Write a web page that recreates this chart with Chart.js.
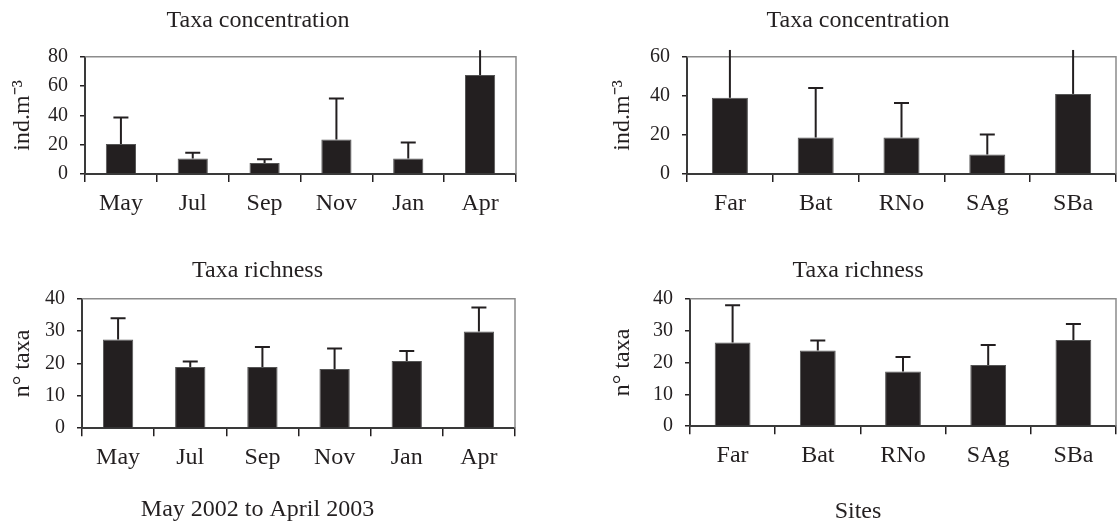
<!DOCTYPE html>
<html>
<head>
<meta charset="utf-8">
<script src="https://cdn.jsdelivr.net/npm/chart.js@4.4.1/dist/chart.umd.min.js"></script>
<style>
    html, body { margin: 0; padding: 0; background: #ffffff; overflow: hidden; }
    body { width: 1117px; height: 527px; position: relative; }
    .panel { position: absolute; }
</style>
</head>
<body>
<div class="panel" style="left:0px; top:0px; width:520px; height:250px;"><canvas id="concMonths"></canvas></div>
<div class="panel" style="left:560px; top:0px; width:568px; height:250px;"><canvas id="concSites"></canvas></div>
<div class="panel" style="left:0px; top:250px; width:518px; height:277px;"><canvas id="richMonths"></canvas></div>
<div class="panel" style="left:560px; top:250px; width:580px; height:277px;"><canvas id="richSites"></canvas></div>

<script>
// Data (mean and upper standard deviation)
const monthLabels = ['May', 'Jul', 'Sep', 'Nov', 'Jan', 'Apr'];
const siteLabels = ['Far', 'Bat', 'RNo', 'SAg', 'SBa'];

const monthConc = [20.5, 10.5, 7.5, 23.5, 10.5, 67.5];
const monthConcErr = [18, 4, 2.5, 28, 11, 17];

const siteConc = [39, 18.7, 18.7, 10, 41];
const siteConcErr = [24.5, 25.3, 17.6, 10.2, 22.5];

const monthRich = [27.4, 18.9, 18.9, 18.3, 20.8, 29.9];
const monthRichErr = [6.6, 1.7, 6.2, 6.3, 3.1, 7.4];

const siteRich = [26.3, 23.8, 17.2, 19.2, 27.1];
const siteRichErr = [11.7, 3.1, 4.5, 6.3, 5.0];

const INK = '#231f20';
const SERIF = "'Liberation Serif', 'Times New Roman', serif";

// Upper error bars, cap only when the top stays inside the plot
const errorBars = {
    id: 'errorBars',
    afterDatasetsDraw(chart) {
        const ds = chart.data.datasets[0];
        const meta = chart.getDatasetMeta(0);
        const y = chart.scales.y;
        const top = chart.chartArea.top;
        const ctx = chart.ctx;
        ctx.save();
        ctx.strokeStyle = INK;
        ctx.lineWidth = 2;
        meta.data.forEach((bar, i) => {
            const yTop = y.getPixelForValue(ds.data[i] + ds.errors[i]);
            ctx.beginPath();
            ctx.moveTo(bar.x, bar.y);
            ctx.lineTo(bar.x, yTop);
            if (yTop >= top) {
                ctx.moveTo(bar.x - 7.5, yTop);
                ctx.lineTo(bar.x + 7.5, yTop);
            }
            ctx.stroke();
        });
        ctx.restore();
    }
};

// Grey top and right edges of the plot box
const plotFrame = {
    id: 'plotFrame',
    beforeDatasetsDraw(chart) {
        const { ctx, chartArea: a } = chart;
        ctx.save();
        ctx.strokeStyle = '#8c8c8c';
        ctx.lineWidth = 1.5;
        ctx.beginPath();
        ctx.moveTo(a.left, a.top);
        ctx.lineTo(a.right, a.top);
        ctx.lineTo(a.right, a.bottom);
        ctx.stroke();
        ctx.restore();
    }
};

function makeChart(id, labels, values, errors, cfg) {
    const ctx = document.getElementById(id).getContext('2d');
    return new Chart(ctx, {
        type: 'bar',
        data: {
            labels: labels,
            datasets: [{
                data: values,
                errors: errors,
                backgroundColor: INK,
                borderColor: '#555555',
                borderWidth: 1,
                barPercentage: 0.42,
                categoryPercentage: 1
            }]
        },
        options: {
            responsive: true,
            maintainAspectRatio: false,
            animation: false,
            layout: { padding: cfg.padding },
            plugins: {
                legend: { display: false },
                tooltip: { enabled: false },
                title: {
                    display: true,
                    text: cfg.title,
                    color: INK,
                    font: { family: SERIF, size: 24, weight: 'normal', lineHeight: 1.2 },
                    padding: cfg.titlePad
                },
                subtitle: {
                    display: !!cfg.xTitle,
                    text: cfg.xTitle || '',
                    position: 'bottom',
                    color: INK,
                    font: { family: SERIF, size: 24, weight: 'normal', lineHeight: 1.2 },
                    padding: cfg.xTitlePad || 0
                }
            },
            scales: {
                x: {
                    afterFit: s => { s.height = 45; },
                    grid: {
                        display: true,
                        offset: true,
                        drawOnChartArea: false,
                        drawTicks: true,
                        tickLength: 8,
                        color: INK,
                        lineWidth: 1.5
                    },
                    border: { display: true, color: '#3a3a3a', width: 2 },
                    ticks: {
                        color: INK,
                        padding: 7,
                        font: { family: SERIF, size: 24, lineHeight: 1.2 }
                    }
                },
                y: {
                    min: 0,
                    max: cfg.max,
                    afterFit: s => { s.width = cfg.yWidth; },
                    grid: {
                        display: true,
                        drawOnChartArea: false,
                        drawTicks: true,
                        tickLength: 5,
                        color: INK,
                        lineWidth: 1.5
                    },
                    border: { display: true, color: '#3a3a3a', width: 2 },
                    ticks: {
                        stepSize: cfg.step,
                        color: INK,
                        padding: 12,
                        font: { family: SERIF, size: 20 }
                    },
                    title: {
                        display: true,
                        text: cfg.yTitle,
                        color: INK,
                        font: { family: SERIF, size: 24, lineHeight: 1.2 },
                        padding: { top: 8, bottom: 0 }
                    }
                }
            }
        },
        plugins: [plotFrame, errorBars]
    });
}

makeChart('concMonths', monthLabels, monthConc, monthConcErr, {
    title: 'Taxa concentration', yTitle: 'ind.m\u207B\u00B3',
    max: 80, step: 20, yWidth: 85,
    padding: { left: 0, right: 4, top: 0, bottom: 31 },
    titlePad: { top: 6, bottom: 22 }
});

makeChart('concSites', siteLabels, siteConc, siteConcErr, {
    title: 'Taxa concentration', yTitle: 'ind.m\u207B\u00B3',
    max: 60, step: 20, yWidth: 87,
    padding: { left: 40, right: 12, top: 0, bottom: 31 },
    titlePad: { top: 6, bottom: 22 }
});

makeChart('richMonths', monthLabels, monthRich, monthRichErr, {
    title: 'Taxa richness', yTitle: 'n\u00B0 taxa',
    xTitle: 'May 2002 to April 2003',
    max: 40, step: 10, yWidth: 82,
    padding: { left: 0, right: 3, top: 0, bottom: 0 },
    titlePad: { top: 6, bottom: 14 },
    xTitlePad: { top: 22, bottom: 3 }
});

makeChart('richSites', siteLabels, siteRich, siteRichErr, {
    title: 'Taxa richness', yTitle: 'n\u00B0 taxa',
    xTitle: 'Sites',
    max: 40, step: 10, yWidth: 90,
    padding: { left: 40, right: 24, top: 0, bottom: 0 },
    titlePad: { top: 6, bottom: 14 },
    xTitlePad: { top: 26, bottom: 1 }
});
</script>
</body>
</html>
